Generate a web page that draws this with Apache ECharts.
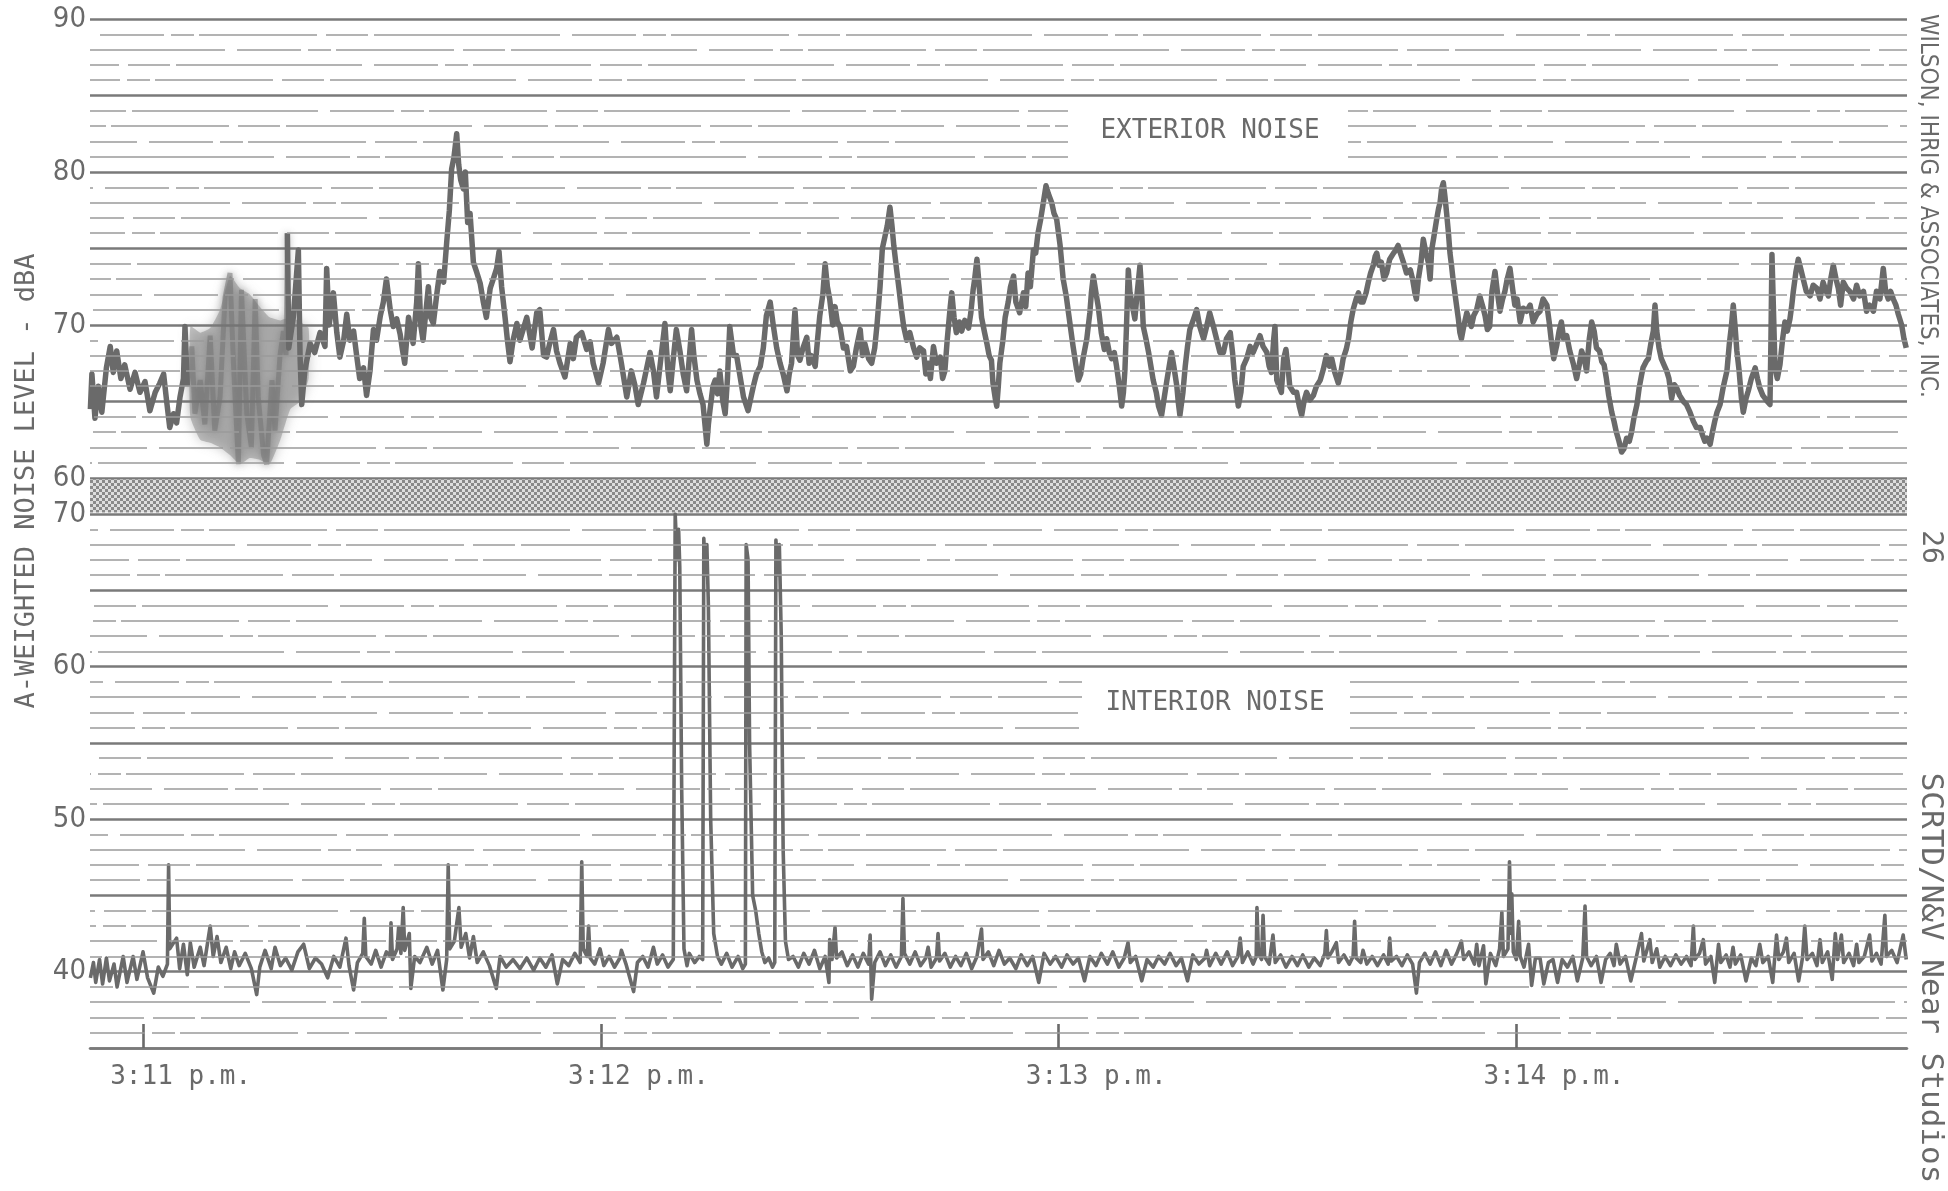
<!DOCTYPE html>
<html>
<head>
<meta charset="utf-8">
<title>A-weighted noise level, exterior and interior</title>
<script src="https://cdn.jsdelivr.net/npm/echarts@6/dist/echarts.min.js"></script>
<style>
  html, body { margin: 0; padding: 0; background: #ffffff; }
  #chart { width: 1948px; height: 1191px; }
</style>
</head>
<body>
<div id="chart"></div>
<script>
// ---- time axis: seconds after 3:11:00 p.m. ----
const chartStart = -6.95;
const chartEnd = 231.2;
const minuteMarks = [0, 60, 120, 180];
const minuteLabels = ['3:11 p.m.', '3:12 p.m.', '3:13 p.m.', '3:14 p.m.'];
const labelLead = 4.3;           // typed minute labels start a little before each mark

// ---- level scales (dBA) ----
const exteriorRange = [60, 90];
const interiorRange = [35, 70];

// ---- exterior noise trace: [seconds, dBA] ----
const exteriorNoise = [
  [-6.9,64.5],[-6.7,66.8],[-6.3,63.9],[-5.85,66.0],[-5.4,64.3],[-4.8,67.2],[-4.3,68.6],[-3.9,66.9],[-3.45,68.3],[-2.9,66.5],
  [-2.4,67.4],[-1.7,65.8],[-1.05,66.9],[-0.4,65.6],[0.26,66.3],[0.9,64.4],[1.6,65.6],[2.2,66.2],[2.7,66.8],[3.1,65.0],
  [3.5,63.3],[4.0,64.2],[4.4,63.6],[4.85,65.3],[5.3,66.5],[5.5,69.9],[5.8,66.0],
  [6.4,68.6],[6.8,64.2],[7.5,66.4],[8.1,63.5],[8.8,69.3],[9.4,63.1],[10.1,65.3],[10.75,71.8],[11.4,73.4],[11.85,67.5],
  [12.5,60.9],[12.9,72.3],[13.6,64.2],[14.2,62.0],[14.7,71.7],[15.1,65.3],[15.8,61.5],[16.2,60.9],[16.9,66.4],[17.3,63.1],
  [17.95,68.0],[18.4,69.6],[18.74,68.0],
  [18.92,76.0],[19.1,68.5],[19.7,70.5],[20.36,74.9],[20.58,68.0],[20.8,64.8],[21.2,67.0],[21.9,68.8],[22.5,68.2],[23.2,69.5],
  [23.85,68.6],[24.07,73.7],[24.4,70.0],[24.95,72.1],[25.4,69.5],[25.8,67.9],[26.3,69.0],[26.7,70.7],[27.1,69.0],[27.6,69.6],
  [28.0,68.0],[28.4,66.5],[28.9,67.2],[29.3,65.4],[29.75,67.0],[30.2,69.7],[30.6,69.0],[31.1,70.6],[31.5,71.5],[31.9,73.0],
  [32.4,71.0],[32.8,69.9],[33.25,70.4],[33.7,69.4],[34.0,68.4],[34.3,67.5],[34.8,70.5],[35.4,68.8],[35.87,71.5],[36.09,74.0],
  [36.4,70.0],[36.7,69.0],[37.4,72.5],[37.7,70.5],[38.05,70.1],[38.5,72.0],[38.9,73.5],[39.4,72.8],[39.8,75.4],[40.15,77.5],
  [40.45,80.2],[40.76,81.0],[41.11,82.5],[41.37,80.5],[41.63,79.5],[41.98,78.9],[42.24,80.0],[42.55,76.7],[42.86,77.3],[43.3,74.1],
  [43.7,73.5],[44.2,72.7],[44.6,71.5],[45.0,70.5],[45.5,72.4],[45.9,73.0],[46.35,73.7],[46.66,74.8],[47.0,72.5],[47.45,70.5],
  [47.76,69.0],[48.1,67.6],[48.5,69.0],[49.0,70.1],[49.4,69.0],[50.3,70.5],[51.0,68.5],[51.6,70.8],
  [52.0,71.0],[52.5,68.0],[52.9,67.9],[53.3,68.8],[53.8,69.7],[54.2,68.3],[54.65,67.5],[55.3,66.6],[56.0,68.8],[56.4,67.8],
  [56.8,69.2],[57.5,69.5],[58.15,68.4],[58.6,68.9],[59.0,67.5],[59.7,66.2],[60.3,67.5],[61.0,69.7],[61.4,68.8],[62.1,69.2],
  [62.7,67.5],[63.4,65.3],[64.0,67.0],[64.5,66.0],[64.9,64.8],[65.6,66.2],[66.45,68.2],[66.9,67.0],[67.3,65.3],[67.8,67.5],
  [68.4,70.1],[68.8,67.0],[69.1,65.7],[69.5,67.8],[69.9,69.7],[70.4,68.2],[70.8,66.8],[71.25,65.7],[71.9,69.7],[72.2,68.0],
  [72.6,66.4],[73.0,65.5],[73.4,64.8],[73.9,62.2],[74.1,63.5],[74.3,64.4],[74.7,66.0],[75.0,66.4],[75.3,65.5],[75.6,67.0],
  [76.0,65.0],[76.3,64.2],[76.6,66.5],[76.9,69.9],[77.4,68.0],[77.8,68.0],[78.2,66.8],[78.7,65.3],[79.3,64.4],[80.0,66.0],
  [80.4,66.8],[80.9,67.3],[81.3,68.5],[81.7,70.6],[82.2,71.5],[82.6,70.0],[83.05,68.5],[83.5,67.5],[83.9,66.8],[84.4,65.7],
  [84.7,66.8],[85.0,67.5],[85.45,71.0],[85.8,68.0],[86.1,67.7],[86.5,68.5],[87.0,69.2],[87.3,67.5],[87.6,68.0],[88.1,67.3],
  [88.4,69.0],[88.7,70.6],[89.1,72.0],[89.4,74.0],[89.7,72.5],[90.0,71.7],[90.4,70.0],[90.7,71.2],[91.0,70.2],[91.35,69.9],
  [91.8,68.5],[92.2,68.6],[92.7,67.0],[93.1,67.3],[93.5,68.5],[94.0,69.7],[94.3,68.0],[94.6,68.8],[95.1,67.8],[95.5,67.5],
  [95.9,68.5],[96.2,70.0],[96.6,72.5],[96.9,75.0],[97.25,75.8],[97.55,76.5],[97.9,77.7],[98.16,76.5],[98.4,75.2],[98.8,73.5],
  [99.1,72.3],[99.4,71.0],[99.7,69.9],[100.1,69.0],[100.5,69.5],[101.0,68.5],[101.4,67.9],[101.8,68.5],[102.3,68.3],[102.6,66.8],
  [102.9,67.5],[103.2,66.5],[103.6,68.6],[104.0,67.5],[104.5,67.9],[104.8,66.5],[105.1,67.0],[105.4,69.0],[105.8,71.2],[106.0,72.1],
  [106.3,70.5],[106.6,69.5],[107.0,70.2],[107.3,69.6],[107.7,70.3],[108.2,69.8],[108.5,70.8],[108.8,72.3],[109.0,73.0],[109.3,74.3],
  [109.6,72.5],[109.9,70.5],[110.3,69.5],[110.6,68.8],[110.9,68.0],[111.2,67.7],[111.4,66.2],[111.7,65.2],[111.9,64.7],[112.1,66.0],
  [112.3,67.5],[112.7,69.0],[113.0,70.5],[113.4,71.5],[113.7,72.5],[114.1,73.2],[114.4,71.5],[114.9,70.8],[115.4,72.1],[115.7,71.2],
  [116.0,73.4],[116.3,72.5],[116.7,74.9],[117.0,74.7],[117.3,76.0],[117.65,76.9],[118.0,78.0],[118.35,79.1],[118.65,78.6],[119.1,78.0],
  [119.4,77.3],[119.75,76.9],[120.2,75.2],[120.6,73.0],[121.0,71.9],[121.3,70.8],[121.6,69.7],[121.9,68.6],[122.3,67.3],[122.6,66.4],
  [122.9,66.8],[123.2,67.8],[123.7,69.1],[124.1,70.8],[124.3,72.1],[124.55,73.2],[124.9,72.1],[125.2,71.2],[125.6,69.5],[126.0,68.4],
  [126.3,69.1],[126.65,68.2],[126.95,67.8],[127.3,68.2],[127.6,67.3],[127.96,66.0],[128.27,64.7],[128.5,65.6],[128.7,67.1],[128.9,69.9],
  [129.14,73.6],[129.36,72.1],[129.7,71.2],[130.0,70.4],[130.3,72.1],[130.67,73.9],[130.9,72.1],[131.1,69.9],[131.45,69.1],[131.8,68.2],
  [132.1,67.3],[132.4,66.4],[132.8,65.6],[133.1,64.7],[133.5,64.1],[133.8,65.1],[134.2,66.4],[134.5,67.3],[134.8,68.2],[135.1,67.3],
  [135.5,66.0],[135.7,64.9],[135.9,64.1],[136.3,65.6],[136.6,67.3],[136.9,68.6],[137.2,69.7],[137.7,70.4],[138.1,71.0],[138.5,69.9],
  [139.0,69.1],[139.4,69.9],[139.8,70.8],[140.3,69.9],[140.7,69.1],[141.15,68.2],[141.6,68.2],[142.0,69.1],[142.5,69.5],[142.8,68.2],
  [143.1,66.4],[143.56,64.7],[143.9,65.6],[144.2,67.3],[144.65,67.8],[145.1,68.6],[145.5,68.2],[146.0,68.8],[146.4,69.3],[146.8,68.6],
  [147.3,68.2],[147.6,67.3],[147.9,66.9],[148.2,69.1],[148.36,69.9],[148.6,66.4],[148.9,66.0],[149.2,65.6],[149.5,67.8],[149.8,68.4],
  [150.1,67.1],[150.3,66.0],[150.8,65.6],[151.2,65.6],[151.55,64.7],[151.86,64.1],[152.2,65.1],[152.5,65.6],[152.95,65.1],[153.4,65.4],
  [153.8,66.0],[154.3,66.4],[154.7,67.1],[155.1,68.0],[155.5,67.3],[155.8,67.8],[156.2,66.9],[156.66,66.2],[157.0,66.9],[157.3,67.8],
  [157.7,68.4],[158.0,69.1],[158.3,70.2],[158.6,71.0],[159.0,71.7],[159.3,72.1],[159.6,71.5],[159.9,71.5],[160.3,72.1],[160.6,72.8],
  [160.9,73.4],[161.25,73.9],[161.5,74.5],[161.7,74.7],[162.0,73.9],[162.3,74.1],[162.65,73.0],[163.0,73.4],[163.4,74.3],[163.9,74.7],
  [164.2,74.9],[164.5,75.2],[164.8,74.7],[165.2,74.1],[165.6,73.4],[166.1,73.6],[166.4,73.0],[166.7,72.1],[166.9,71.7],[167.15,73.0],
  [167.5,74.1],[167.8,75.6],[168.15,74.7],[168.46,74.1],[168.7,73.0],[168.9,74.9],[169.2,75.8],[169.55,76.9],[169.8,77.6],[170.0,78.0],
  [170.2,78.9],[170.43,79.3],[170.64,78.4],[170.86,77.3],[171.1,76.0],[171.3,74.7],[171.5,73.9],[171.7,73.0],[172.1,71.5],[172.4,70.4],
  [172.6,69.5],[172.8,69.1],[173.1,69.9],[173.5,70.8],[173.8,70.4],[174.1,69.9],[174.4,70.6],[174.8,71.0],[175.2,71.9],[175.6,71.2],
  [175.9,70.6],[176.2,69.7],[176.5,69.9],[176.8,72.2],[177.2,73.5],[177.5,72.2],[177.85,70.9],[178.2,71.7],[178.5,72.2],[178.8,73.0],
  [179.16,73.7],[179.5,72.4],[179.8,71.3],[180.1,71.7],[180.5,70.2],[180.9,71.1],[181.35,70.9],[181.8,71.3],[182.2,70.2],[182.7,70.7],
  [183.1,70.9],[183.5,71.7],[184.0,71.3],[184.3,70.2],[184.6,68.9],[184.9,67.8],[185.3,68.7],[185.6,69.6],[185.9,70.2],[186.2,69.1],
  [186.6,69.3],[187.0,68.3],[187.5,67.4],[187.9,66.5],[188.25,67.4],[188.55,68.3],[188.9,67.8],[189.2,67.0],[189.56,69.1],[189.87,70.2],
  [190.2,69.6],[190.5,68.5],[190.9,68.3],[191.2,67.6],[191.5,67.4],[191.8,66.5],[192.1,65.4],[192.5,64.3],[192.8,63.7],[193.1,63.0],
  [193.45,62.4],[193.8,61.7],[194.1,61.9],[194.45,62.6],[194.8,62.4],[195.1,63.0],[195.4,63.9],[195.8,64.8],[196.1,65.9],[196.4,66.7],
  [196.6,67.2],[197.0,67.6],[197.3,67.8],[197.6,68.7],[197.95,69.6],[198.17,71.3],[198.4,69.6],[198.7,68.5],[199.0,67.8],[199.35,67.4],
  [199.7,67.0],[200.0,66.5],[200.35,65.2],[200.7,66.1],[201.0,65.9],[201.4,65.4],[201.9,65.0],[202.3,64.8],[202.75,64.3],[203.2,63.7],
  [203.6,63.3],[204.1,63.3],[204.4,62.8],[204.7,62.4],[205.0,62.6],[205.4,62.2],[205.7,63.0],[206.0,63.7],[206.3,64.3],[206.7,64.8],
  [207.1,65.9],[207.6,67.0],[207.9,68.7],[208.2,70.0],[208.43,71.3],[208.65,70.0],[208.9,68.3],[209.2,67.0],[209.5,65.2],[209.74,64.3],
  [210.1,65.2],[210.4,65.7],[210.8,66.5],[211.3,67.2],[211.6,66.5],[211.9,65.9],[212.3,65.4],[212.6,65.2],[212.9,65.0],[213.24,64.8],
  [213.37,69.1],[213.5,74.6],[213.68,71.3],[213.9,67.2],[214.2,66.5],[214.55,67.4],[214.9,69.1],[215.2,70.2],[215.5,69.6],[215.86,70.4],
  [216.1,71.3],[216.3,72.2],[216.65,73.5],[216.95,74.3],[217.26,73.7],[217.6,73.0],[218.0,72.2],[218.5,71.9],[218.9,72.6],[219.4,72.4],
  [219.8,71.7],[220.2,72.8],[220.6,72.2],[220.9,71.9],[221.2,73.0],[221.54,73.9],[221.9,73.0],[222.2,72.4],[222.5,71.3],[222.85,72.8],
  [223.3,72.4],[223.7,72.2],[224.2,71.7],[224.6,72.6],[225.0,71.9],[225.5,72.2],[225.9,70.9],[226.3,71.3],[226.8,70.9],[227.2,72.2],
  [227.65,71.7],[228.09,73.7],[228.4,72.2],[228.75,71.7],[229.05,72.2],[229.4,71.7],[229.75,71.3],[230.06,70.7],[230.5,70.0],[230.8,69.1],
  [231.1,68.5]
];

// smeared stretch of the exterior pen trace near 3:11 (blurred on the original strip)
const smearStart = 5.8;
const smearEnd = 18.8;
const smearTime = [6.2, 7.5, 8.8, 10.1, 11.4, 12.7, 14.0, 15.3, 16.6, 18.0, 19.3, 20.6, 21.7];
const smearHigh = [69.9, 69.5, 69.8, 71.0, 73.2, 72.4, 72.0, 71.2, 70.5, 70.3, 70.5, 70.2, 69.8];
const smearLow  = [64.0, 62.5, 62.3, 62.0, 61.5, 60.9, 61.3, 61.2, 60.9, 62.5, 64.5, 65.0, 66.5];

// ---- interior noise trace: [seconds, dBA] ----
const interiorNoise = [
  [-6.9,39.6],[-6.5,40.6],[-6.2,39.3],[-5.7,40.8],[-5.3,39.2],[-4.8,40.9],[-4.4,39.4],[-3.8,40.5],[-3.4,39.0],[-2.6,41.0],
  [-2.1,39.3],[-1.3,41.0],[-0.8,39.5],[0.0,41.3],[0.6,39.6],[1.4,38.6],[2.0,40.3],[2.6,39.7],[3.2,40.5],[3.35,47.0],
  [3.5,41.5],[4.4,42.2],[4.8,40.2],[5.3,41.8],[5.8,39.8],[6.2,41.9],[6.7,40.3],[7.5,41.6],[8.0,40.4],[8.8,43.0],
  [9.2,41.0],[9.7,42.3],[10.2,40.6],[10.9,41.6],[11.5,40.2],[12.0,41.3],[12.6,40.4],[13.4,41.2],[14.2,40.2],[14.9,38.5],
  [15.3,40.3],[16.0,41.4],[16.8,40.2],[17.3,41.6],[18.0,40.4],[18.7,40.9],[19.5,40.1],[20.3,41.3],[21.05,41.8],[21.8,40.2],
  [22.6,40.9],[23.4,40.5],[24.2,39.6],[25.0,41.0],[25.8,40.3],[26.6,42.2],[27.0,40.4],[27.6,38.8],[28.1,40.6],[28.8,41.2],
  [29.0,43.5],[29.2,41.0],[29.9,40.5],[30.5,41.4],[31.2,40.3],[31.9,41.3],[32.4,41.0],[32.5,43.2],[32.7,40.8],[33.3,41.5],
  [33.5,42.9],[33.8,41.2],[34.1,44.2],[34.3,41.4],[34.9,42.5],[35.1,38.9],[35.6,41.0],[36.3,40.6],[37.2,41.6],[37.9,40.5],
  [38.6,41.4],[39.3,38.8],[39.8,40.8],[40.0,47.0],[40.2,41.5],[40.8,42.0],[41.4,44.2],[41.7,41.6],[42.3,42.5],[42.8,40.9],
  [43.3,42.3],[43.8,40.6],[44.6,41.3],[45.4,40.4],[46.3,38.9],[46.8,41.0],[47.6,40.3],[48.5,40.8],[49.4,40.2],[50.3,40.9],
  [51.2,40.1],[52.0,40.9],[52.8,40.3],[53.6,41.1],[54.3,39.2],[55.0,40.8],[55.8,40.4],[56.6,41.2],[57.3,40.6],[57.5,47.2],
  [57.7,41.5],[58.2,41.0],[58.4,43.0],[58.6,40.9],[59.2,40.5],[59.9,41.5],[60.4,40.4],[61.1,41.0],[61.8,40.3],[62.5,40.9],
  [62.7,41.4],[63.3,40.5],[64.3,38.7],[64.8,40.6],[65.5,41.0],[66.2,40.3],[66.9,41.6],[67.4,40.5],[68.1,41.1],[68.8,40.3],
  [69.5,40.8],[69.75,70.0],[70.0,67.0],[70.2,69.0],[70.35,66.5],[70.6,52.0],[70.9,41.5],[71.3,40.4],[71.6,41.2],[72.3,40.6],
  [72.9,41.0],[73.35,40.8],[73.5,68.4],[73.7,66.0],[73.9,68.0],[74.1,64.0],[74.4,50.0],[74.8,42.5],[75.3,41.0],[75.8,40.5],
  [76.5,41.2],[77.2,40.3],[78.0,41.0],[78.6,40.2],[78.95,40.5],[79.05,68.0],[79.3,67.0],[79.5,55.0],[79.9,45.0],[80.3,44.0],
  [80.7,42.5],[81.1,41.3],[81.5,40.6],[82.0,40.9],[82.5,40.3],[82.8,40.6],[82.95,68.3],[83.2,66.0],[83.4,68.0],[83.65,62.0],
  [83.9,48.0],[84.2,42.0],[84.6,40.8],[85.2,41.0],[85.9,40.3],[86.6,41.2],[87.3,40.5],[88.0,41.4],[88.7,40.2],[89.4,41.0],
  [89.9,39.3],[90.0,42.1],[90.3,40.8],[90.7,42.9],[90.9,40.9],[91.6,41.3],[92.3,40.4],[93.0,41.1],[93.7,40.3],[94.4,41.2],
  [95.1,40.5],[95.3,42.4],[95.5,38.2],[95.9,40.6],[96.6,41.3],[97.3,40.4],[98.0,41.1],[98.7,40.3],[99.4,41.0],[99.6,44.8],
  [99.8,41.2],[100.5,40.5],[101.2,41.3],[101.9,40.4],[102.6,40.9],[102.9,41.6],[103.3,40.3],[104.0,40.9],[104.2,42.5],[104.4,40.7],
  [105.1,41.2],[105.8,40.3],[106.5,41.0],[107.2,40.4],[107.9,41.2],[108.6,40.2],[109.3,41.0],[109.9,42.8],[110.1,40.8],[110.8,41.3],
  [111.5,40.4],[112.2,41.4],[112.9,40.5],[113.6,40.9],[114.4,40.2],[115.1,41.1],[115.9,40.4],[116.6,41.0],[117.4,39.3],[118.1,41.2],
  [118.9,40.5],[119.6,41.0],[120.4,40.3],[121.1,41.1],[121.9,40.5],[122.6,40.9],[123.4,39.4],[124.1,41.0],[124.9,40.4],[125.6,41.2],
  [126.4,40.5],[127.1,41.3],[127.9,40.3],[128.6,40.9],[129.1,41.9],[129.4,40.6],[130.1,41.0],[130.9,39.4],[131.6,40.8],[132.4,40.3],
  [133.1,41.0],[133.9,40.5],[134.6,41.2],[135.4,40.4],[136.1,40.9],[136.9,39.4],[137.6,41.1],[138.4,40.5],[139.2,40.9],[139.4,41.4],
  [139.8,40.4],[140.6,41.2],[141.3,40.5],[142.1,41.3],[142.8,40.4],[143.5,41.0],[143.8,42.2],[144.1,40.6],[144.8,41.3],[145.5,40.5],
  [145.9,41.0],[146.0,44.2],[146.2,41.2],[146.6,40.8],[146.8,43.7],[147.0,41.0],[147.6,40.5],[148.1,42.4],[148.4,40.6],[149.1,41.1],
  [149.8,40.3],[150.6,41.0],[151.3,40.4],[152.0,41.1],[152.8,40.3],[153.5,40.9],[154.3,40.4],[154.9,41.2],[155.1,42.7],[155.3,40.9],
  [155.8,41.3],[156.4,41.9],[156.7,40.6],[157.4,41.1],[158.1,40.5],[158.6,41.0],[158.8,43.3],[159.0,40.9],[159.6,40.6],[159.9,41.4],
  [160.4,40.5],[161.1,41.0],[161.8,40.4],[162.6,41.1],[163.2,40.5],[163.4,42.2],[163.6,40.7],[164.3,41.0],[165.0,40.4],[165.7,41.1],
  [166.4,40.5],[166.9,38.6],[167.3,40.6],[168.0,41.2],[168.7,40.5],[169.4,41.3],[170.1,40.4],[170.8,41.4],[171.5,40.5],[172.2,41.2],
  [172.8,42.0],[173.1,40.8],[173.8,41.3],[174.5,40.5],[174.8,41.8],[175.1,40.4],[175.7,41.7],[176.0,39.2],[176.6,41.2],[177.3,40.4],
  [177.8,41.5],[178.1,43.9],[178.3,41.0],[178.9,41.5],[179.1,47.2],[179.3,42.5],[179.4,45.1],[179.6,41.3],[180.0,40.8],[180.3,43.3],
  [180.5,41.0],[181.0,40.3],[181.6,41.8],[182.0,39.1],[182.5,40.9],[183.1,40.9],[183.6,39.2],[184.2,40.6],[184.8,40.8],[185.4,39.3],
  [186.0,40.8],[186.7,40.3],[187.4,41.0],[188.0,39.4],[188.7,40.9],[189.0,44.3],[189.2,41.0],[189.8,40.4],[190.5,41.0],[191.1,39.3],
  [191.7,40.8],[192.3,41.2],[192.8,40.4],[193.1,41.8],[193.6,40.5],[194.3,41.0],[195.0,39.4],[195.7,40.9],[196.4,42.5],[196.7,40.7],
  [197.5,42.1],[197.8,40.6],[198.4,41.5],[198.8,40.3],[199.5,41.0],[200.2,40.4],[200.9,41.1],[201.6,40.5],[202.3,41.0],[202.9,40.4],
  [203.2,43.0],[203.4,40.8],[204.0,41.2],[204.5,42.1],[204.8,40.5],[205.5,41.0],[206.0,39.3],[206.5,41.8],[206.8,40.6],[207.5,41.1],
  [208.0,40.3],[208.4,41.6],[208.7,40.5],[209.4,41.1],[210.1,39.4],[210.8,40.9],[211.4,40.4],[211.9,41.8],[212.3,40.6],[213.0,41.0],
  [213.6,39.3],[214.1,42.4],[214.4,40.8],[215.0,41.3],[215.4,42.2],[215.7,40.6],[216.4,41.2],[217.0,39.4],[217.5,40.9],[217.8,43.0],
  [218.1,40.8],[218.8,41.2],[219.4,40.4],[219.8,42.1],[220.1,40.6],[220.8,41.3],[221.4,39.5],[221.8,42.5],[222.1,40.8],[222.6,42.4],
  [222.9,40.6],[223.6,41.2],[224.2,40.4],[224.6,41.8],[224.9,40.6],[225.6,41.0],[226.3,42.4],[226.6,40.7],[227.2,41.2],[227.8,40.5],
  [228.3,43.7],[228.5,41.0],[229.2,41.4],[229.9,40.6],[230.7,42.4],[231.1,40.8]
];

// ---- drawing ----
const INK = '#6a6a6a';
const GRID_INK = '#7a7a7a';
const MINOR_INK = '#9a9a9a';
const MONO = '"DejaVu Sans Mono", "Liberation Mono", monospace';
const NARROW = '"Liberation Sans Narrow", "DejaVu Sans Condensed", "Liberation Sans", sans-serif';
const MINOR_DASH = [118, 9, 42, 6, 186, 12, 64, 7, 23, 5];

const GRID_LEFT = 90, GRID_W = 1817;
const TOP_Y = 19, TOP_H = 459;
const BOT_Y = 514, BOT_H = 534;

function bandPattern() {
  const c = document.createElement('canvas');
  c.width = 6; c.height = 6;
  const g = c.getContext('2d');
  g.fillStyle = '#dedede'; g.fillRect(0, 0, 6, 6);
  g.fillStyle = '#8a8a8a'; g.fillRect(0, 0, 3, 3); g.fillRect(3, 3, 3, 3);
  return c;
}

function levelAxis(gridIndex, range) {
  return {
    type: 'value', gridIndex: gridIndex, min: range[0], max: range[1], interval: 5,
    axisLine: { show: false }, axisTick: { show: false },
    axisLabel: {
      formatter: v => (v % 10 === 0 ? String(v) : ''),
      color: INK, fontFamily: NARROW, fontSize: 29, margin: 4
    },
    splitLine: { show: true, lineStyle: { color: GRID_INK, width: 2.5 } }
  };
}

// 1 dB ruling between the 5 dB lines; each line gets its own dash phase so the breaks scatter
function minorRuling(range) {
  const items = [];
  for (let v = range[0] + 1; v < range[1]; v++) {
    if (v % 5 === 0) continue;
    items.push({ yAxis: v, lineStyle: { dashOffset: (v * 137) % 455 } });
  }
  return items;
}

function rulingSeries(gridIndex, range) {
  return {
    type: 'line', xAxisIndex: gridIndex, yAxisIndex: gridIndex, data: [], silent: true, z: 1,
    markLine: {
      silent: true, symbol: ['none', 'none'], animation: false,
      label: { show: false },
      lineStyle: { color: MINOR_INK, width: 1.7, type: MINOR_DASH },
      emphasis: { disabled: true },
      data: minorRuling(range)
    }
  };
}

const exteriorClear = exteriorNoise.map(p => (p[0] > smearStart && p[0] < smearEnd) ? [p[0], '-'] : p);
const exteriorSmeared = exteriorNoise.filter(p => p[0] >= smearStart && p[0] <= smearEnd + 0.15);

const chart = echarts.init(document.getElementById('chart'), null, { renderer: 'canvas' });
chart.setOption({
  animation: false,
  backgroundColor: '#ffffff',
  grid: [
    { left: GRID_LEFT, top: TOP_Y, width: GRID_W, height: TOP_H },
    { left: GRID_LEFT, top: BOT_Y, width: GRID_W, height: BOT_H }
  ],
  xAxis: [
    { type: 'value', gridIndex: 0, min: chartStart, max: chartEnd,
      axisLine: { show: false }, axisTick: { show: false }, axisLabel: { show: false }, splitLine: { show: false } },
    { type: 'value', gridIndex: 1, min: chartStart, max: chartEnd,
      axisLine: { show: true, onZero: false, lineStyle: { color: GRID_INK, width: 2.6 } },
      axisTick: { show: true, inside: true, length: 24, customValues: minuteMarks, lineStyle: { color: INK, width: 2.6 } },
      axisLabel: {
        customValues: minuteMarks.map(t => t - labelLead),
        formatter: v => minuteLabels[minuteMarks.indexOf(Math.round(v + labelLead))] || '',
        align: 'left', margin: 16, color: INK, fontFamily: MONO, fontSize: 26
      },
      splitLine: { show: false } }
  ],
  yAxis: [levelAxis(0, exteriorRange), levelAxis(1, interiorRange)],
  series: [
    rulingSeries(0, exteriorRange),
    rulingSeries(1, interiorRange),
    {
      name: 'smear', type: 'custom', xAxisIndex: 0, yAxisIndex: 0, silent: true, z: 2,
      data: [0],
      renderItem: function (params, api) {
        const pts = [];
        for (let i = 0; i < smearTime.length; i++) pts.push(api.coord([smearTime[i], smearHigh[i]]));
        for (let i = smearTime.length - 1; i >= 0; i--) pts.push(api.coord([smearTime[i], smearLow[i]]));
        return {
          type: 'polygon', shape: { points: pts, smooth: 0.15 },
          style: { fill: 'rgba(128,128,128,0.45)', shadowBlur: 12, shadowColor: 'rgba(115,115,115,0.9)' }
        };
      }
    },
    {
      name: 'Exterior (smeared)', type: 'line', xAxisIndex: 0, yAxisIndex: 0, silent: true, z: 3,
      showSymbol: false, data: exteriorSmeared,
      lineStyle: { color: '#747474', width: 5, opacity: 0.55, shadowBlur: 7, shadowColor: 'rgba(100,100,100,0.8)' }
    },
    {
      name: 'Exterior noise', type: 'line', xAxisIndex: 0, yAxisIndex: 0, silent: true, z: 4,
      showSymbol: false, connectNulls: false, data: exteriorClear,
      lineStyle: { color: INK, width: 5.5, join: 'round' }
    },
    {
      name: 'Interior noise', type: 'line', xAxisIndex: 1, yAxisIndex: 1, silent: true, z: 4,
      showSymbol: false, data: interiorNoise,
      lineStyle: { color: INK, width: 3.6, join: 'round' }
    }
  ],
  graphic: [
    { type: 'rect', silent: true, z: 1,
      shape: { x: GRID_LEFT, y: TOP_Y + TOP_H + 1.5, width: GRID_W, height: BOT_Y - TOP_Y - TOP_H - 3 },
      style: { fill: { image: bandPattern(), repeat: 'repeat' } } },
    // label boxes blank out the ruled lines behind the titles
    { type: 'rect', silent: true, z: 10, shape: { x: 1068, y: 98, width: 280, height: 71 }, style: { fill: '#ffffff' } },
    { type: 'text', silent: true, z: 11, x: 1210, y: 131,
      style: { text: 'EXTERIOR NOISE', font: '26px ' + MONO, fill: INK, align: 'center', verticalAlign: 'middle' } },
    { type: 'rect', silent: true, z: 10, shape: { x: 1082, y: 669, width: 268, height: 71 }, style: { fill: '#ffffff' } },
    { type: 'text', silent: true, z: 11, x: 1215, y: 703,
      style: { text: 'INTERIOR NOISE', font: '26px ' + MONO, fill: INK, align: 'center', verticalAlign: 'middle' } },
    { type: 'text', silent: true, z: 11, x: 27, y: 481, rotation: Math.PI / 2,
      style: { text: 'A-WEIGHTED NOISE LEVEL - dBA', font: '27px ' + MONO, fill: INK, align: 'center', verticalAlign: 'middle' } },
    { type: 'text', silent: true, z: 11, x: 1927, y: 206, rotation: -Math.PI / 2,
      style: { text: 'WILSON, IHRIG & ASSOCIATES, INC.', font: '24px ' + NARROW, fill: INK, align: 'center', verticalAlign: 'middle' } },
    { type: 'text', silent: true, z: 11, x: 1930, y: 547, rotation: -Math.PI / 2,
      style: { text: '26', font: '28px ' + MONO, fill: INK, align: 'center', verticalAlign: 'middle' } },
    { type: 'text', silent: true, z: 11, x: 1930, y: 978, rotation: -Math.PI / 2,
      style: { text: 'SCRTD/N&V Near Studios', font: '31px ' + MONO, fill: INK, align: 'center', verticalAlign: 'middle' } }
  ]
});
</script>
</body>
</html>
